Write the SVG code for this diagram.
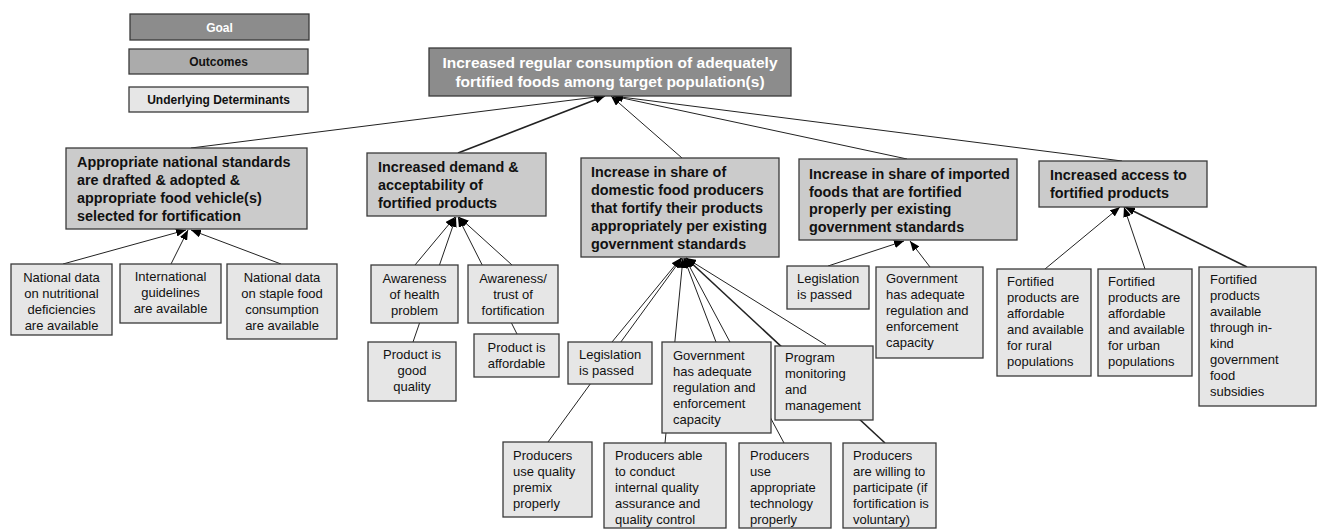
<svg xmlns="http://www.w3.org/2000/svg" width="1317" height="529" viewBox="0 0 1317 529">
<style>
.bx{stroke:#3a3a3a;stroke-width:1.3}
.goal{fill:#8c8c8c}
.out{fill:#cbcbcb}
.det{fill:#e6e6e6}
.leg-out{fill:#ababab}
.t{font-family:"Liberation Sans",Arial,sans-serif}
.gt{font-size:15.5px;font-weight:bold;fill:#fff;text-anchor:middle}
.ot{font-size:14.4px;font-weight:bold;fill:#111}
.dt{font-size:13px;fill:#111}
.c{text-anchor:middle}
.lt{font-size:12px;font-weight:bold;text-anchor:middle}
.ln{stroke:#222;stroke-width:1;fill:none;marker-end:url(#ah)}
.th{stroke-width:1.6}
</style>
<defs>
<marker id="ah" markerUnits="userSpaceOnUse" markerWidth="11" markerHeight="8" refX="10" refY="4" orient="auto">
<path d="M0,0 L10,4 L0,8 z" fill="#000"/>
</marker>
</defs>
<rect width="1317" height="529" fill="#fff"/>
<g id="connectors">
<line class="ln" x1="191" y1="148" x2="604" y2="96"/>
<line class="ln th" x1="458" y1="153" x2="605" y2="96"/>
<line class="ln" x1="682" y1="158" x2="611" y2="96"/>
<line class="ln" x1="907" y1="159" x2="613" y2="96"/>
<line class="ln" x1="1122" y1="161" x2="613" y2="96"/>
<line class="ln" x1="63" y1="264" x2="186" y2="230"/>
<line class="ln" x1="171" y1="264" x2="188" y2="230"/>
<line class="ln" x1="281" y1="264" x2="191" y2="230"/>
<line class="ln" x1="415" y1="265" x2="455" y2="217"/>
<line class="ln" x1="413" y1="342" x2="456" y2="217"/>
<line class="ln" x1="512" y1="265" x2="459" y2="217"/>
<line class="ln" x1="517" y1="334" x2="458" y2="217"/>
<line class="ln" x1="612" y1="342" x2="681" y2="258"/>
<line class="ln" x1="548" y1="442" x2="682" y2="258"/>
<line class="ln" x1="665" y1="443" x2="683" y2="258"/>
<line class="ln" x1="716" y1="342" x2="684" y2="258"/>
<line class="ln" x1="784" y1="443" x2="685" y2="258"/>
<line class="ln" x1="826" y1="345" x2="686" y2="258"/>
<line class="ln th" x1="885" y1="443" x2="686" y2="258"/>
<line class="ln" x1="828" y1="266" x2="904" y2="241"/>
<line class="ln" x1="930" y1="267" x2="910" y2="241"/>
<line class="ln" x1="1045" y1="269" x2="1120" y2="207"/>
<line class="ln" x1="1145" y1="269" x2="1124" y2="207"/>
<line class="ln th" x1="1247" y1="267" x2="1125" y2="207"/>
</g>
<g id="legend-goal"><rect class="bx goal" x="130" y="14" width="179" height="26"/><text class="t lt" x="219.5" y="31.5" fill="#fff">Goal</text></g>
<g id="legend-outcomes"><rect class="bx leg-out" x="129" y="49" width="179" height="25"/><text class="t lt" x="218.5" y="66" fill="#111">Outcomes</text></g>
<g id="legend-determinants"><rect class="bx det" x="129" y="87" width="179" height="25"/><text class="t lt" x="218.5" y="104" fill="#111">Underlying Determinants</text></g>
<g id="goal"><rect class="bx goal" x="429" y="48" width="362" height="48"/><text class="t gt"><tspan x="610" y="68">Increased regular consumption of adequately</tspan><tspan x="610" y="87">fortified foods among target population(s)</tspan></text></g>
<g id="out-standards"><rect class="bx out" x="66" y="148" width="241" height="81"/><text class="t ot"><tspan x="77" y="167">Appropriate national standards</tspan><tspan x="77" y="185">are drafted &amp; adopted &amp;</tspan><tspan x="77" y="203">appropriate food vehicle(s)</tspan><tspan x="77" y="221">selected for fortification</tspan></text></g>
<g id="out-demand"><rect class="bx out" x="367" y="153" width="179" height="63"/><text class="t ot"><tspan x="378" y="172">Increased demand &amp;</tspan><tspan x="378" y="190">acceptability of</tspan><tspan x="378" y="208">fortified products</tspan></text></g>
<g id="out-domestic"><rect class="bx out" x="581" y="158" width="198" height="99"/><text class="t ot"><tspan x="591" y="177">Increase in share of</tspan><tspan x="591" y="195">domestic food producers</tspan><tspan x="591" y="213">that fortify their products</tspan><tspan x="591" y="231">appropriately per existing</tspan><tspan x="591" y="249">government standards</tspan></text></g>
<g id="out-imported"><rect class="bx out" x="799" y="159" width="218" height="81"/><text class="t ot"><tspan x="809" y="179">Increase in share of imported</tspan><tspan x="809" y="196.5">foods that are fortified</tspan><tspan x="809" y="214">properly per existing</tspan><tspan x="809" y="231.5">government standards</tspan></text></g>
<g id="out-access"><rect class="bx out" x="1039" y="161" width="168" height="46"/><text class="t ot"><tspan x="1050" y="180">Increased access to</tspan><tspan x="1050" y="198">fortified products</tspan></text></g>
<g id="det-nutri"><rect class="bx det" x="11" y="264" width="101" height="71"/><text class="t dt c"><tspan x="61.5" y="282">National data</tspan><tspan x="61.5" y="298">on nutritional</tspan><tspan x="61.5" y="314">deficiencies</tspan><tspan x="61.5" y="330">are available</tspan></text></g>
<g id="det-intl"><rect class="bx det" x="120" y="264" width="101" height="59"/><text class="t dt c"><tspan x="170.5" y="281">International</tspan><tspan x="170.5" y="297">guidelines</tspan><tspan x="170.5" y="313">are available</tspan></text></g>
<g id="det-staple"><rect class="bx det" x="227" y="264" width="110" height="75"/><text class="t dt c"><tspan x="282" y="282">National data</tspan><tspan x="282" y="298">on staple food</tspan><tspan x="282" y="314">consumption</tspan><tspan x="282" y="330">are available</tspan></text></g>
<g id="det-health"><rect class="bx det" x="371" y="265" width="87" height="58"/><text class="t dt c"><tspan x="414.5" y="283">Awareness</tspan><tspan x="414.5" y="299">of health</tspan><tspan x="414.5" y="315">problem</tspan></text></g>
<g id="det-trust"><rect class="bx det" x="468" y="265" width="90" height="58"/><text class="t dt c"><tspan x="513" y="283">Awareness/</tspan><tspan x="513" y="299">trust of</tspan><tspan x="513" y="315">fortification</tspan></text></g>
<g id="det-quality"><rect class="bx det" x="368" y="342" width="88" height="59"/><text class="t dt c"><tspan x="412" y="359">Product is</tspan><tspan x="412" y="375">good</tspan><tspan x="412" y="391">quality</tspan></text></g>
<g id="det-afford"><rect class="bx det" x="474" y="334" width="85" height="43"/><text class="t dt c"><tspan x="516.5" y="352">Product is</tspan><tspan x="516.5" y="368">affordable</tspan></text></g>
<g id="det-legis-dom"><rect class="bx det" x="568" y="342" width="84" height="42"/><text class="t dt"><tspan x="579" y="359">Legislation</tspan><tspan x="579" y="375">is passed</tspan></text></g>
<g id="det-gov-dom"><rect class="bx det" x="662" y="342" width="109" height="91"/><text class="t dt"><tspan x="673" y="360">Government</tspan><tspan x="673" y="376">has adequate</tspan><tspan x="673" y="392">regulation and</tspan><tspan x="673" y="408">enforcement</tspan><tspan x="673" y="424">capacity</tspan></text></g>
<g id="det-program"><rect class="bx det" x="775" y="346" width="98" height="74"/><text class="t dt"><tspan x="785" y="362">Program</tspan><tspan x="785" y="378">monitoring</tspan><tspan x="785" y="394">and</tspan><tspan x="785" y="410">management</tspan></text></g>
<g id="det-legis-imp"><rect class="bx det" x="787" y="266" width="82" height="43"/><text class="t dt"><tspan x="797" y="283">Legislation</tspan><tspan x="797" y="299">is passed</tspan></text></g>
<g id="det-gov-imp"><rect class="bx det" x="876" y="267" width="107" height="91"/><text class="t dt"><tspan x="886" y="283">Government</tspan><tspan x="886" y="299">has adequate</tspan><tspan x="886" y="315">regulation and</tspan><tspan x="886" y="331">enforcement</tspan><tspan x="886" y="347">capacity</tspan></text></g>
<g id="det-rural"><rect class="bx det" x="997" y="269" width="94" height="107"/><text class="t dt"><tspan x="1007" y="286">Fortified</tspan><tspan x="1007" y="302">products are</tspan><tspan x="1007" y="318">affordable</tspan><tspan x="1007" y="334">and available</tspan><tspan x="1007" y="350">for rural</tspan><tspan x="1007" y="366">populations</tspan></text></g>
<g id="det-urban"><rect class="bx det" x="1098" y="269" width="94" height="107"/><text class="t dt"><tspan x="1108" y="286">Fortified</tspan><tspan x="1108" y="302">products are</tspan><tspan x="1108" y="318">affordable</tspan><tspan x="1108" y="334">and available</tspan><tspan x="1108" y="350">for urban</tspan><tspan x="1108" y="366">populations</tspan></text></g>
<g id="det-subsidies"><rect class="bx det" x="1199" y="267" width="117" height="139"/><text class="t dt"><tspan x="1210" y="284">Fortified</tspan><tspan x="1210" y="300">products</tspan><tspan x="1210" y="316">available</tspan><tspan x="1210" y="332">through in-</tspan><tspan x="1210" y="348">kind</tspan><tspan x="1210" y="364">government</tspan><tspan x="1210" y="380">food</tspan><tspan x="1210" y="396">subsidies</tspan></text></g>
<g id="det-premix"><rect class="bx det" x="503" y="442" width="89" height="75"/><text class="t dt"><tspan x="513" y="460">Producers</tspan><tspan x="513" y="476">use quality</tspan><tspan x="513" y="492">premix</tspan><tspan x="513" y="508">properly</tspan></text></g>
<g id="det-qa"><rect class="bx det" x="604" y="443" width="122" height="85"/><text class="t dt"><tspan x="615" y="460">Producers able</tspan><tspan x="615" y="476">to conduct</tspan><tspan x="615" y="492">internal quality</tspan><tspan x="615" y="508">assurance and</tspan><tspan x="615" y="524">quality control</tspan></text></g>
<g id="det-tech"><rect class="bx det" x="739" y="443" width="92" height="85"/><text class="t dt"><tspan x="750" y="460">Producers</tspan><tspan x="750" y="476">use</tspan><tspan x="750" y="492">appropriate</tspan><tspan x="750" y="508">technology</tspan><tspan x="750" y="524">properly</tspan></text></g>
<g id="det-willing"><rect class="bx det" x="843" y="443" width="93" height="85"/><text class="t dt"><tspan x="853" y="460">Producers</tspan><tspan x="853" y="476">are willing to</tspan><tspan x="853" y="492">participate (if</tspan><tspan x="853" y="508">fortification is</tspan><tspan x="853" y="524">voluntary)</tspan></text></g>
</svg>
